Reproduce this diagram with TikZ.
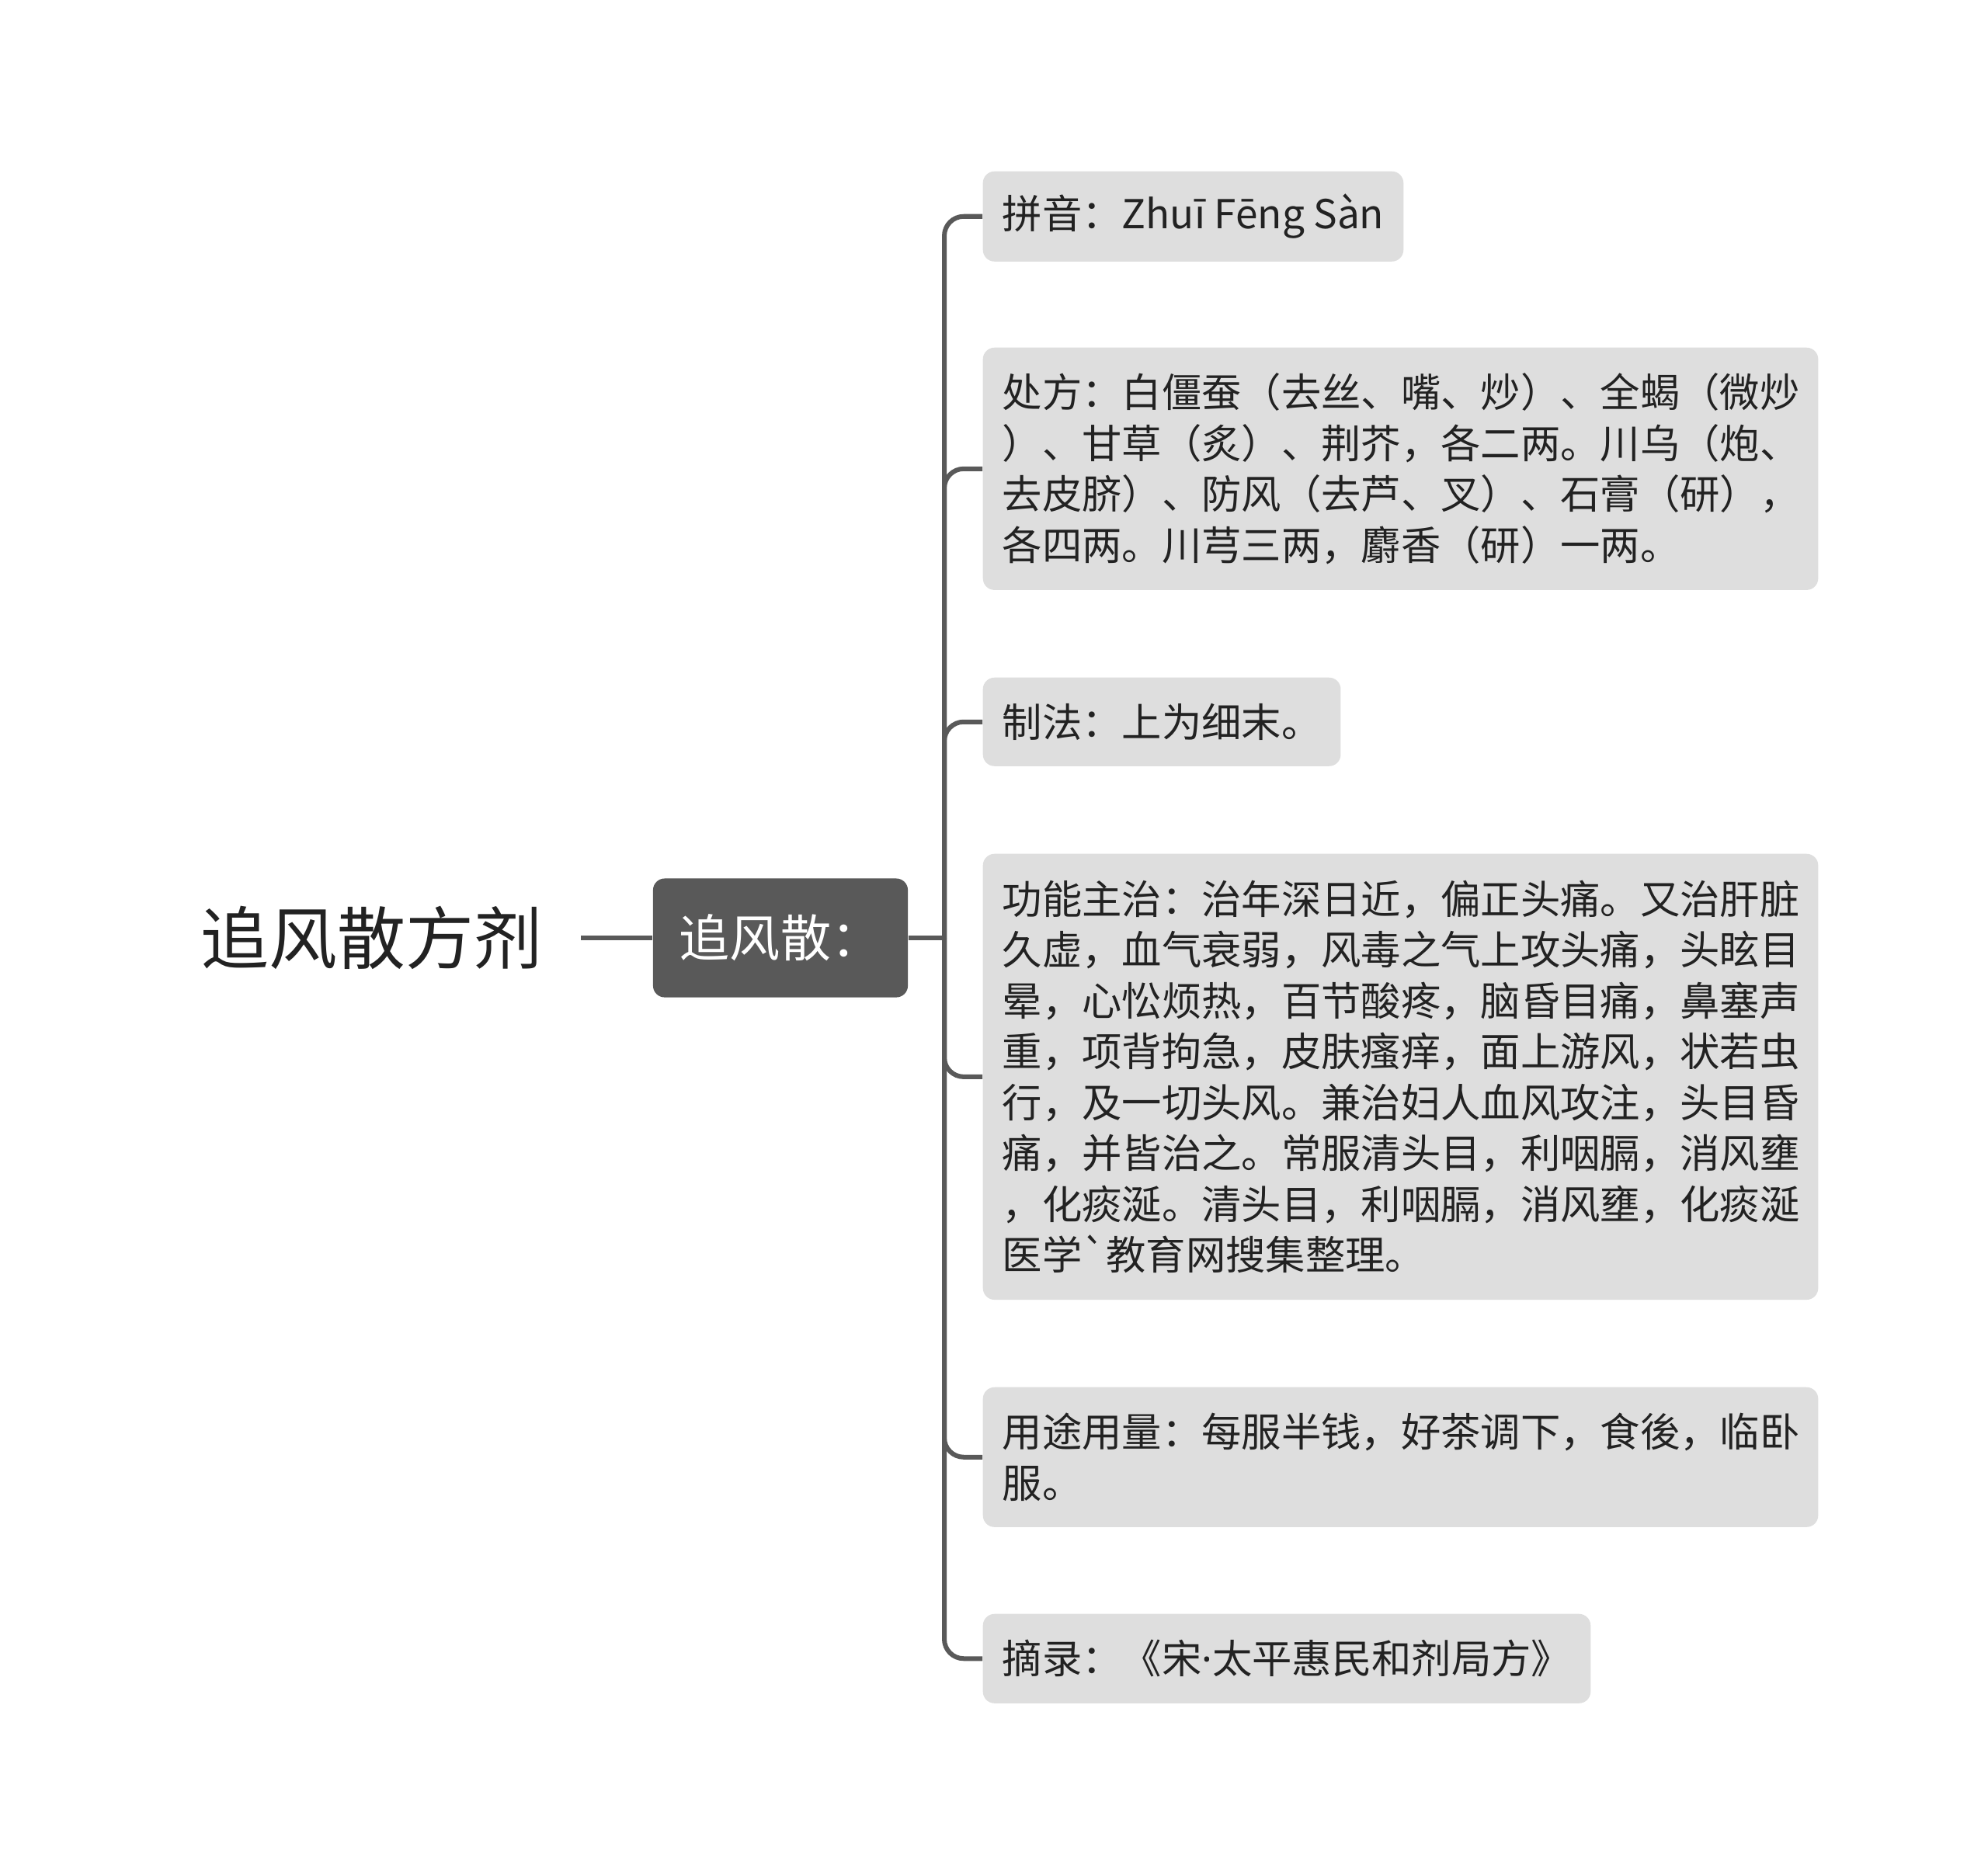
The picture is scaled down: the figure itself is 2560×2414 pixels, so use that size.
\documentclass[tikz,border=0pt]{standalone}
\usepackage{fontspec}
\newfontfamily\cjk{Noto Sans CJK SC}
\newfontfamily\latn{Noto Sans}
\definecolor{boxgray}{HTML}{DEDEDE}
\definecolor{darkbox}{HTML}{595959}
\definecolor{linegray}{HTML}{595959}
\definecolor{txt}{HTML}{222222}
\begin{document}
\begin{tikzpicture}[x=0.01cm,y=-0.01cm,
  leaf/.style={fill=boxgray, rounded corners=0.15cm, anchor=north west,
    inner xsep=0.25cm, inner ysep=0cm, text=txt, align=left,
    font=\cjk\fontsize{14.6pt}{18.6pt}\selectfont},
  hubnode/.style={fill=darkbox, rounded corners=0.15cm, text=white,
    minimum width=3.28cm, minimum height=1.53cm, inner sep=0cm,
    font=\cjk\fontsize{18.5pt}{22pt}\selectfont},
  rootnode/.style={anchor=east, inner xsep=0.49cm, text=txt,
    font=\cjk\fontsize{25pt}{30pt}\selectfont},
  conn/.style={draw=linegray, line width=0.06cm, rounded corners=0.25cm}]
\useasboundingbox (0,0) rectangle (2560,2414);
\fill[white] (0,0) rectangle (2560,2414);

\node[rootnode] (root) at (748,1208) {追风散方剂};
\node[hubnode] (ctr) at (1005,1208) {追风散：};
\coordinate (hub) at (1216,1208);

\node[leaf, minimum height=1.16cm] (c1) at (1265,220) {拼音：Zhuī Fēng Sàn};
\node[leaf, minimum height=3.12cm, text width=10.25cm] (c2) at (1265,447)
  {处方：白僵蚕（去丝、嘴、炒）、全蝎（微炒\\）、甘草（炙）、荆芥，各二两。川乌（炮、\\去皮脐）、防风（去芦、叉）、石膏（研），\\各四两。川芎三两，麝香（研）一两。};
\node[leaf, minimum height=1.14cm] (c3) at (1265,872) {制法：上为细末。};
\node[leaf, minimum height=5.74cm, text width=10.25cm] (c4) at (1265,1099)
  {功能主治：治年深日近，偏正头痛。又治肝脏\\久虚，血气衰弱，风毒之气上攻头痛，头眩目\\晕，心忪烦热，百节酸疼，脑昏目痛，鼻塞声\\重，项背拘急，皮肤瘙痒，面上游风，状若虫\\行，及一切头风。兼治妇人血风攻注，头目昏\\痛，并皆治之。常服清头目，利咽膈，消风壅\\，化痰涎。清头目，利咽膈，消风壅，化痰涎\\医学`教育网搜集整理。};
\node[leaf, minimum height=1.80cm, text width=10.25cm] (c5) at (1265,1786)
  {用途用量：每服半钱，好茶调下，食後，临卧\\服。};
\node[leaf, minimum height=1.15cm] (c6) at (1265,2078) {摘录：《宋{\latn ·}太平惠民和剂局方》};

\draw[conn] (root.east) -- (ctr.west);
\draw[conn] (ctr.east) -- (hub);
\foreach \c in {c1,c2,c3,c4,c5,c6} \draw[conn] (hub) |- (\c.west);
\end{tikzpicture}
\end{document}
